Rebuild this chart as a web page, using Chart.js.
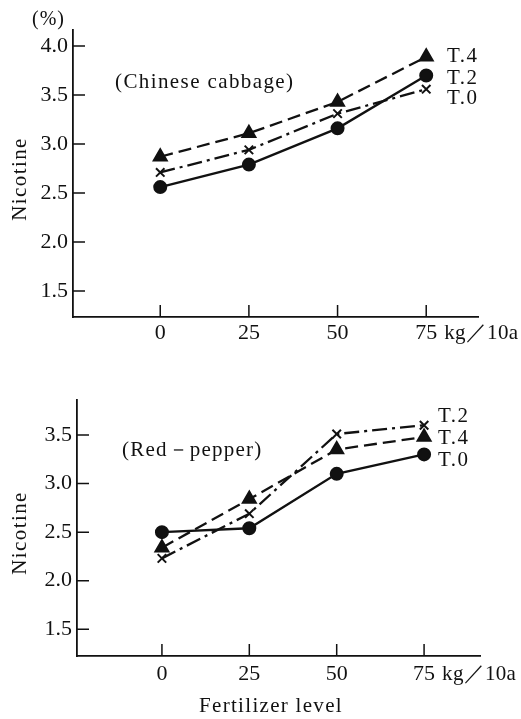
<!DOCTYPE html>
<html lang="en">
<head>
<meta charset="UTF-8" />
<title>Nicotine and fertilizer level</title>
<script src="https://cdn.jsdelivr.net/npm/chart.js"></script>
<style>
  html, body { margin: 0; padding: 0; background: #fff; }
  #wrap { position: relative; width: 521px; height: 719px; }
  canvas { position: absolute; left: 0; }
</style>
</head>
<body>
<div id="wrap">
  <canvas id="cabbageChart" width="521" height="360" style="top:0"></canvas>
  <canvas id="pepperChart" width="521" height="359" style="top:360px"></canvas>
</div>

<script>
  // fertilizer levels (kg/10a)
  const xLevels = [0, 25, 50, 75];
  const xTickLabels = ['0', '25', '50', '75'];

  // Chinese cabbage, nicotine %
  const cabbageT4 = [2.87, 3.11, 3.43, 3.89];
  const cabbageT2 = [2.56, 2.79, 3.16, 3.70];
  const cabbageT0 = [2.71, 2.94, 3.31, 3.56];
  const cabbageYTicks = [1.5, 2.0, 2.5, 3.0, 3.5, 4.0];

  // Red-pepper, nicotine %
  const pepperT2 = [2.23, 2.69, 3.51, 3.60];
  const pepperT4 = [2.34, 2.84, 3.35, 3.48];
  const pepperT0 = [2.50, 2.54, 3.10, 3.30];
  const pepperYTicks = [1.5, 2.0, 2.5, 3.0, 3.5];

  const SERIF = "'Liberation Serif', 'Times New Roman', serif";
  const INK = '#111';

  const toPoints = arr => arr.map((v, i) => ({ x: xLevels[i], y: v }));

  // line style goes with the marker: triangle dashed, cross dash-dot, circle solid
  const styles = {
    triangle: { pointStyle: 'triangle', pointRadius: 7.5, borderDash: [13, 6] },
    cross: { pointStyle: 'crossRot', pointRadius: 6, borderDash: [15, 5, 3, 5] },
    circle: { pointStyle: 'circle', pointRadius: 6, borderDash: [] }
  };

  function series(label, values, marker) {
    return Object.assign({
      label,
      data: toPoints(values),
      borderColor: INK,
      backgroundColor: INK,
      pointBackgroundColor: INK,
      pointBorderColor: INK,
      pointBorderWidth: 2,
      borderWidth: 2.3,
      fill: false,
      tension: 0
    }, styles[marker]);
  }

  // axis ticks (pointing inward) and free texts
  const decorPlugin = {
    id: 'decor',
    afterDraw(chart, args, o) {
      const ctx = chart.ctx;
      const { left, bottom } = chart.chartArea;
      const xs = chart.scales.x, ys = chart.scales.y;
      ctx.save();
      ctx.strokeStyle = INK;
      ctx.lineWidth = 1.5;
      ctx.beginPath();
      xs.ticks.forEach((t, i) => {
        const px = xs.getPixelForTick(i);
        ctx.moveTo(px, bottom);
        ctx.lineTo(px, bottom - 12);
      });
      ys.ticks.forEach((t, i) => {
        const py = ys.getPixelForTick(i);
        ctx.moveTo(left, py);
        ctx.lineTo(left + 12, py);
      });
      ctx.stroke();

      ctx.fillStyle = INK;
      ctx.textBaseline = 'middle';
      const texts = o.texts.concat([{
        text: 'kg／10a', x: xs.getPixelForValue(75) + 18, y: bottom + o.unitDy, size: 21, spacing: 0.3
      }]);
      texts.forEach(t => {
        ctx.save();
        ctx.font = `${t.size}px ${SERIF}`;
        ctx.letterSpacing = (t.spacing || 0) + 'px';
        ctx.textAlign = t.align || 'left';
        ctx.translate(t.x, t.y);
        if (t.rotate) ctx.rotate(t.rotate);
        ctx.fillText(t.text, 0, 0);
        ctx.restore();
      });
      ctx.restore();
    }
  };

  function makeChart(id, datasets, box, texts) {
    const yTicks = box.yTicks;
    return new Chart(document.getElementById(id), {
      type: 'line',
      data: { datasets },
      plugins: [decorPlugin],
      options: {
        responsive: false,
        animation: false,
        layout: { padding: { top: box.top, right: box.right, left: 0, bottom: 0 } },
        plugins: {
          legend: { display: false },
          tooltip: { enabled: false },
          decor: { texts, unitDy: box.unitDy }
        },
        scales: {
          x: {
            type: 'linear',
            min: box.xMin,
            max: box.xMax,
            afterBuildTicks: s => { s.ticks = xLevels.map(v => ({ value: v })); },
            afterFit: s => { s.height = box.xHeight; },
            grid: { display: false, drawTicks: false },
            border: { display: true, color: INK, width: 1.8 },
            ticks: {
              color: INK,
              padding: box.xPad,
              maxRotation: 0,
              font: { family: SERIF, size: 22 },
              callback: v => xTickLabels[xLevels.indexOf(v)]
            }
          },
          y: {
            min: box.yMin,
            max: box.yMax,
            afterBuildTicks: s => { s.ticks = yTicks.map(v => ({ value: v })); },
            afterFit: s => { s.width = box.left; },
            grid: { display: false, drawTicks: false },
            border: { display: true, color: INK, width: 1.8 },
            ticks: {
              color: INK,
              padding: 5,
              font: { family: SERIF, size: 22 },
              callback: v => v.toFixed(1)
            }
          }
        }
      }
    });
  }

  makeChart('cabbageChart', [
    series('T.4', cabbageT4, 'triangle'),
    series('T.2', cabbageT2, 'circle'),
    series('T.0', cabbageT0, 'cross')
  ], {
    top: 30, right: 43, left: 73, xHeight: 43, xPad: 3, unitDy: 16,
    xMin: -24.6, xMax: 89.6, yMin: 1.234, yMax: 4.164, yTicks: cabbageYTicks
  }, [
    { text: '(%)', x: 32, y: 20, size: 20, spacing: 1 },
    { text: '(Chinese cabbage)', x: 115, y: 82, size: 21, spacing: 1.4 },
    { text: 'T.4', x: 447, y: 56, size: 21, spacing: 1.5 },
    { text: 'T.2', x: 447, y: 78, size: 21, spacing: 1.5 },
    { text: 'T.0', x: 447, y: 98, size: 21, spacing: 1.5 },
    { text: 'Nicotine', x: 20, y: 179, size: 21, spacing: 1.4, align: 'center', rotate: -Math.PI / 2 }
  ]);

  makeChart('pepperChart', [
    series('T.2', pepperT2, 'cross'),
    series('T.4', pepperT4, 'triangle'),
    series('T.0', pepperT0, 'circle')
  ], {
    top: 40, right: 41, left: 77, xHeight: 63, xPad: 5, unitDy: 18,
    xMin: -24.3, xMax: 91.0, yMin: 1.225, yMax: 3.86, yTicks: pepperYTicks
  }, [
    { text: '(Red－pepper)', x: 122, y: 90, size: 21, spacing: 1.2 },
    { text: 'T.2', x: 438, y: 56, size: 21, spacing: 1.5 },
    { text: 'T.4', x: 438, y: 78, size: 21, spacing: 1.5 },
    { text: 'T.0', x: 438, y: 100, size: 21, spacing: 1.5 },
    { text: 'Nicotine', x: 20, y: 173, size: 21, spacing: 1.4, align: 'center', rotate: -Math.PI / 2 },
    { text: 'Fertilizer level', x: 271, y: 346, size: 21, spacing: 1.3, align: 'center' }
  ]);
</script>
</body>
</html>
